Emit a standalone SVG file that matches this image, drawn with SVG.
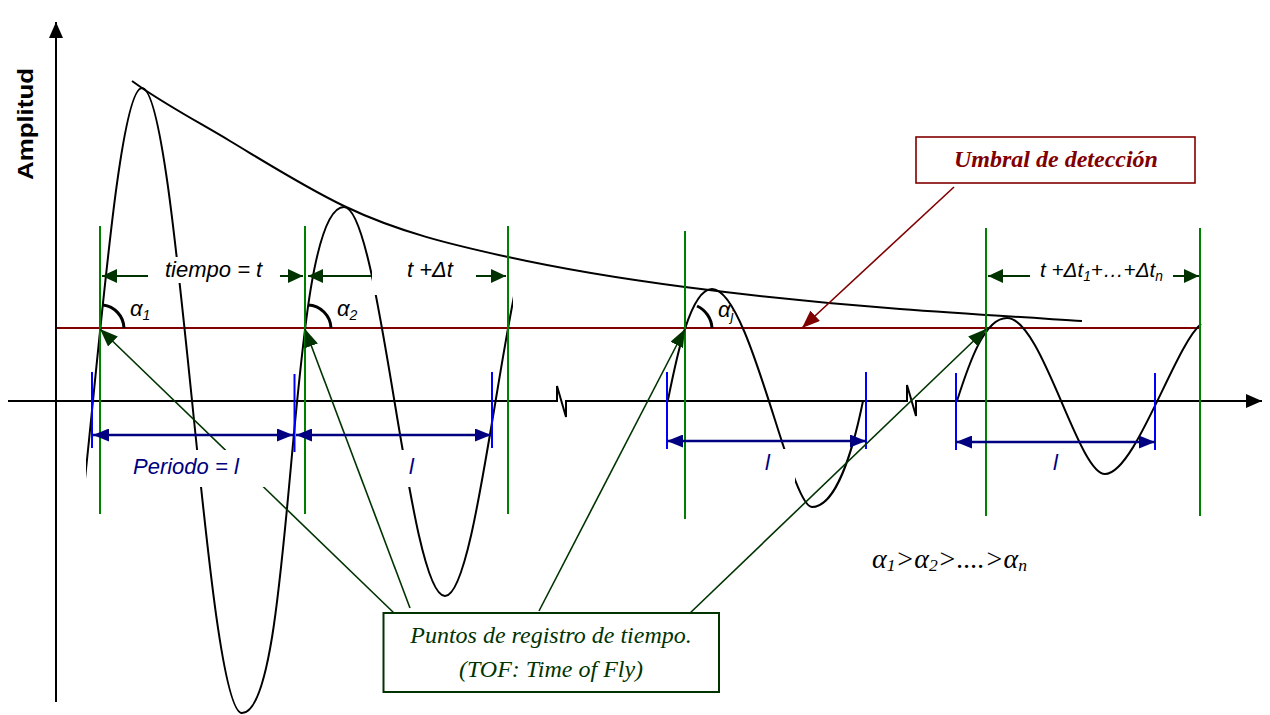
<svg xmlns="http://www.w3.org/2000/svg" width="1270" height="715" viewBox="0 0 1270 715">
<style>
.sans{font-family:"Liberation Sans",Arial,sans-serif;}
.serif{font-family:"Liberation Serif","Times New Roman",serif;}
.wave{fill:none;stroke:#000;stroke-width:2;}
.grn{stroke:#008000;stroke-width:2;}
.tick{stroke:#0000ff;stroke-width:2;}
.dimg{stroke:#003300;stroke-width:2;marker-end:url(#mg);}
.dimn{stroke:#000080;stroke-width:2.5;marker-start:url(#mn);marker-end:url(#mn);}
.lead{stroke:#003300;stroke-width:1.6;marker-end:url(#ml);}
.arc{fill:none;stroke:#000;stroke-width:3;}
.lbl{font-size:22px;font-style:italic;}
.mask{fill:#fff;stroke:none;}
</style>
<defs>
<marker id="mg" markerUnits="userSpaceOnUse" markerWidth="15" markerHeight="14" viewBox="0 0 15 14" refX="15" refY="7" orient="auto"><path d="M0,0L15,7L0,14z" fill="#003300"/></marker>
<marker id="ml" markerUnits="userSpaceOnUse" markerWidth="18" markerHeight="14" viewBox="0 0 18 14" refX="18" refY="7" orient="auto"><path d="M0,0L18,7L0,14z" fill="#003300"/></marker>
<marker id="mr" markerUnits="userSpaceOnUse" markerWidth="18" markerHeight="14" viewBox="0 0 18 14" refX="18" refY="7" orient="auto"><path d="M0,0L18,7L0,14z" fill="#800000"/></marker>
<marker id="mn" markerUnits="userSpaceOnUse" markerWidth="16" markerHeight="13" viewBox="0 0 16 13" refX="16" refY="6.5" orient="auto-start-reverse"><path d="M0,0L16,6.5L0,13z" fill="#000080"/></marker>
<marker id="ma" markerUnits="userSpaceOnUse" markerWidth="16" markerHeight="14" viewBox="0 0 16 14" refX="16" refY="7" orient="auto"><path d="M0,0L16,7L0,14z" fill="#000"/></marker>
<clipPath id="cw"><rect x="86" y="0" width="427" height="715"/></clipPath>
</defs>

<g id="axes" fill="none" stroke="#000" stroke-width="2">
<path d="M56,702 V22" marker-end="url(#ma)"/>
<path d="M8,401 H557 V386 L566,417 V401 H907 V385 L916,416 V401 H1262" marker-end="url(#ma)"/>
</g>
<text id="axis-label" class="sans" font-size="22" font-weight="bold" text-anchor="middle" textLength="112" lengthAdjust="spacingAndGlyphs" transform="translate(33,124) rotate(-90)">Amplitud</text>

<g id="threshold"><path d="M57,328 H1200" stroke="#800000" stroke-width="2"/></g>

<g id="envelope"><path class="wave" d="M132,81 C135.3,83.3 138.7,85.7 142,88 C171.3,107.9 200.7,123.4 230,141 C268,163.8 306,187.8 344,206 C398.7,232.3 453.3,245 508,257 C567,270 626,279.3 685,287 C756.7,296.3 828.3,303.6 900,309 C960.7,313.6 1021.3,317.2 1082,321"/></g>

<g id="waves">
<path class="wave" clip-path="url(#cw)" d="M44,713 C79.6,713 106.4,88 142,88 C178.3,88 205.7,713 242,713 C296,713 286,207 344,207 C380.7,207 408.3,596 445,596 C481.7,596 509.3,207 546,207"/>
<path class="wave" d="M668,400 C676,360 690,289 712,289 C750,289 790,507 812,507 C835,507 852,455 863,401"/>
<path class="wave" d="M957,401 C970,360 985,318 1007,318 C1042,318 1078,474 1105,474 C1135,474 1175,345 1201,324"/>
</g>

<g id="time-markers">
<path class="grn" d="M100,226 V514 M305,226 V514 M508,226 V514 M685,231 V519 M986,228 V516 M1200,228 V516"/>
</g>

<g id="period-ticks">
<path class="tick" d="M92,372 V448 M294.5,374 V452 M492,372 V448 M667,372 V449 M866,372 V449 M956,373 V450 M1155,373 V450"/>
</g>

<g id="angles">
<path class="arc" d="M103,305 A24,24 0 0 1 124,328"/>
<path class="arc" d="M308,305 A24,24 0 0 1 331,328"/>
<path class="arc" d="M697,306 A26,26 0 0 1 712,328"/>
<text class="sans lbl" x="130" y="316">α<tspan font-size="14" dy="4">1</tspan></text>
<text class="sans lbl" x="337" y="316">α<tspan font-size="14" dy="4">2</tspan></text>
<text class="sans lbl" x="718" y="317">α<tspan font-size="14" dy="4">j</tspan></text>
</g>

<g id="connectors" fill="none">
<path class="lead" d="M394,613 L100,329"/>
<path class="lead" d="M410,608 L305,329"/>
<path class="lead" d="M539,611 L685,329"/>
<path class="lead" d="M688,615 L986,329"/>
<path d="M954,187 L802,328" stroke="#800000" stroke-width="1.6" marker-end="url(#mr)"/>
</g>

<g id="label-backgrounds">
<rect class="mask" x="148" y="257" width="132" height="26"/>
<rect class="mask" x="372" y="257" width="104" height="38"/>
<rect class="mask" x="110" y="450" width="160" height="37"/>
<rect class="mask" x="385" y="450" width="50" height="37"/>
<rect class="mask" x="745" y="449" width="50" height="34"/>
</g>

<g id="time-dimensions">
<path class="dimg" d="M148,276 L102,276"/>
<path class="dimg" d="M280,276 L303,276"/>
<path class="dimg" d="M371,276 L308,276"/>
<path class="dimg" d="M476,276 L506,276"/>
<path class="dimg" d="M1030,276 L988,276"/>
<path class="dimg" d="M1173,276 L1199,276"/>
<text class="sans lbl" x="165" y="277">tiempo = t</text>
<text class="sans lbl" x="407" y="277">t +Δt</text>
<text class="sans" font-size="21" font-style="italic" x="1040" y="277" textLength="123" lengthAdjust="spacingAndGlyphs">t +Δt<tspan font-size="14" dy="4">1</tspan><tspan dy="-4">+…+Δt</tspan><tspan font-size="14" dy="4">n</tspan></text>
</g>

<g id="period-dimensions" fill="#000080">
<path class="dimn" d="M93,435 L293,435"/>
<path class="dimn" d="M296,435 L491,435"/>
<path class="dimn" d="M667,441 L866,441"/>
<path class="dimn" d="M956,442 L1155,442"/>
<text class="sans lbl" x="133" y="474">Periodo = l</text>
<text class="sans lbl" x="409" y="474">l</text>
<text class="sans lbl" x="765" y="470">l</text>
<text class="sans lbl" x="1053" y="470">l</text>
</g>

<g id="node-umbral">
<rect x="916" y="137" width="279" height="46" fill="#fff" stroke="#800000" stroke-width="1.6"/>
<text class="serif" x="1056" y="167" font-size="24" font-weight="bold" font-style="italic" fill="#800000" text-anchor="middle">Umbral de detección</text>
</g>

<g id="node-puntos">
<rect x="383.5" y="613" width="335.5" height="79" fill="#fff" stroke="#003300" stroke-width="2"/>
<text class="serif" x="551" y="643" font-size="24" font-style="italic" fill="#003300" text-anchor="middle">Puntos de registro de tiempo.</text>
<text class="serif" x="551" y="677" font-size="24" font-style="italic" fill="#003300" text-anchor="middle">(TOF: Time of Fly)</text>
</g>

<g id="alpha-relation">
<text class="serif" x="872" y="568" font-size="27" font-style="italic" textLength="155" lengthAdjust="spacingAndGlyphs">α<tspan font-size="17" dy="3">1</tspan><tspan dy="-3">&gt;α</tspan><tspan font-size="17" dy="3">2</tspan><tspan dy="-3">&gt;....&gt;α</tspan><tspan font-size="17" dy="3">n</tspan></text>
</g>
</svg>
